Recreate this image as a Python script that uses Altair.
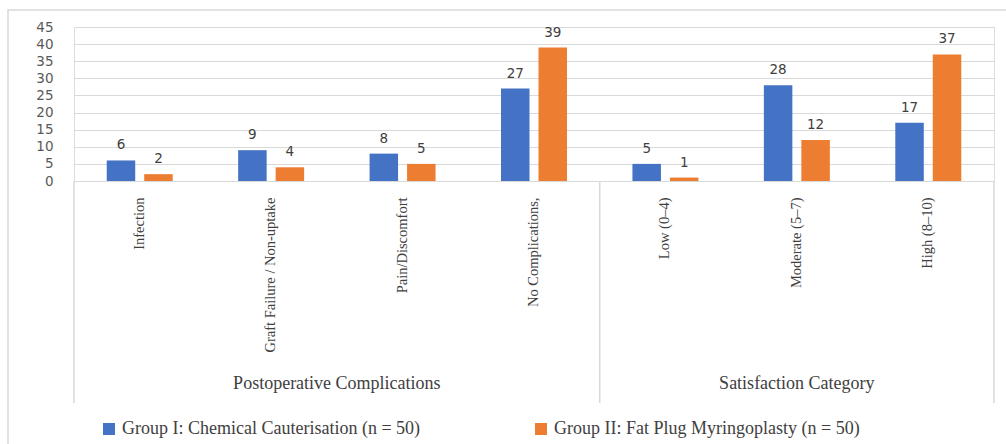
import altair as alt
import pandas as pd

categories = ["Infection", "Graft Failure / Non-uptake", "Pain/Discomfort", "No Complications,",
              "Low (0–4)", "Moderate (5–7)", "High (8–10)"]
group1_values = [6, 9, 8, 27, 5, 28, 17]
group2_values = [2, 4, 5, 39, 1, 12, 37]
series_names = ["Group I: Chemical Cauterisation (n = 50)", "Group II: Fat Plug Myringoplasty (n = 50)"]
section_names = ["Postoperative Complications", "Satisfaction Category"]
section_sizes = [4, 3]
y_ticks = [0, 5, 10, 15, 20, 25, 30, 35, 40, 45]

rows = []
for c, a, b in zip(categories, group1_values, group2_values):
    rows.append({"category": c, "series": series_names[0], "value": a})
    rows.append({"category": c, "series": series_names[1], "value": b})
df = pd.DataFrame(rows)

bounds = [0]
for s in section_sizes:
    bounds.append(bounds[-1] + s)
sec_df = pd.DataFrame({
    "section": section_names,
    "mid": [(bounds[i] + bounds[i + 1]) / 2 for i in range(len(section_names))],
})
bound_df = pd.DataFrame({"b": bounds})
n_cat = len(categories)

W, H = 920, 154
colors = ["#4472C4", "#ED7D31"]

x_enc = alt.X("category:N", sort=categories,
              scale=alt.Scale(paddingInner=0.498, paddingOuter=0.249),
              axis=alt.Axis(title=None, labelAngle=-90, labelPadding=16, ticks=False,
                            domainColor="#D9D9D9", labelFont="Liberation Serif",
                            labelFontSize=14.5, labelColor="#404040", labelLimit=400))
xo_enc = alt.XOffset("series:N", sort=series_names, scale=alt.Scale(paddingInner=0.24))
y_enc = alt.Y("value:Q", scale=alt.Scale(domain=[0, 45], nice=False),
              axis=alt.Axis(title=None, values=y_ticks, domain=False, ticks=False,
                            labelPadding=21, gridColor="#D9D9D9", labelFont="DejaVu Sans",
                            labelFontSize=13.5, labelColor="#595959"))

bars = alt.Chart(df).mark_bar().encode(
    x=x_enc, xOffset=xo_enc, y=y_enc,
    color=alt.Color("series:N", sort=series_names,
                    scale=alt.Scale(domain=series_names, range=colors),
                    legend=alt.Legend(title=None, orient="none", legendX=26, legendY=393,
                                      direction="horizontal", columns=2, symbolType="square",
                                      symbolSize=144, symbolStrokeWidth=0, columnPadding=111,
                                      labelFont="Liberation Serif", labelFontSize=18,
                                      labelColor="#404040", labelLimit=500, symbolOffset=0)),
)

labels = alt.Chart(df).mark_text(dy=-11, baseline="alphabetic", font="DejaVu Sans",
                                 fontSize=13.5, color="#404040").encode(
    x=x_enc, xOffset=xo_enc, y=y_enc, text="value:Q")

main = alt.layer(bars, labels)

qx = alt.Scale(domain=[0, n_cat], nice=False, zero=False)
sec_text = alt.Chart(sec_df).mark_text(font="Liberation Serif", fontSize=18, color="#404040",
                                       baseline="middle").encode(
    x=alt.X("mid:Q", scale=qx, axis=None), y=alt.value(357), text="section:N")
sep = alt.Chart(bound_df).mark_rule(color="#D9D9D9", strokeWidth=1.5).encode(
    x=alt.X("b:Q", scale=qx, axis=None), y=alt.value(154), y2=alt.value(376))
frame = alt.Chart(pd.DataFrame({"k": [0]})).mark_rect(fill=None, stroke="#D9D9D9", strokeWidth=1.5).encode(
    x=alt.value(-66), x2=alt.value(940), y=alt.value(-17), y2=alt.value(430))

chart = alt.layer(frame, main, sec_text, sep).resolve_scale(x="independent").properties(
    width=W, height=H,
    autosize=alt.AutoSizeParams(type="none"),
    padding={"left": 74, "top": 27, "right": 12, "bottom": 263},
).configure_view(stroke=None).configure(background="white")

chart.save("out.html", embed_options={"renderer": "svg", "actions": False})
